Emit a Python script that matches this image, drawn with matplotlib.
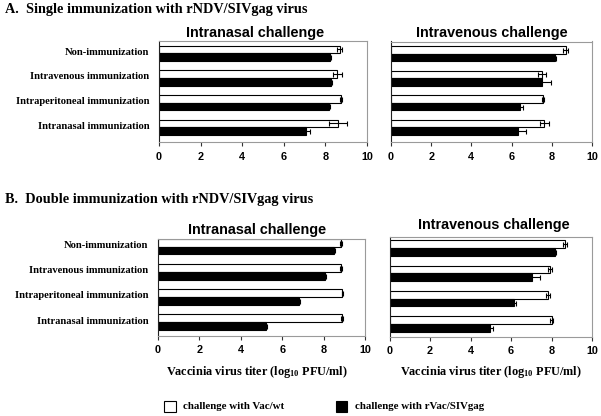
import matplotlib
matplotlib.use("Agg")
import matplotlib.pyplot as plt
import numpy as np
from matplotlib.patches import Rectangle

plt.rcParams['mathtext.fontset'] = 'custom'
plt.rcParams['mathtext.rm'] = 'Liberation Serif:bold'
plt.rcParams['mathtext.default'] = 'rm'

categories = ["Non-immunization", "Intravenous immunization",
              "Intraperitoneal immunization", "Intranasal immunization"]
xticks = [0, 2, 4, 6, 8, 10]

# Single immunization - intranasal challenge
a_in_wt = [8.68, 8.57, 8.75, 8.60]
a_in_wt_err = [0.12, 0.22, 0.05, 0.44]
a_in_siv = [8.20, 8.25, 8.19, 7.08]
a_in_siv_err = [0.05, 0.08, 0.05, 0.18]
# Single immunization - intravenous challenge
a_iv_wt = [8.70, 7.52, 7.57, 7.62]
a_iv_wt_err = [0.13, 0.20, 0.05, 0.23]
a_iv_siv = [8.18, 7.52, 6.41, 6.33]
a_iv_siv_err = [0.05, 0.45, 0.15, 0.40]
# Double immunization - intranasal challenge
b_in_wt = [8.82, 8.83, 8.90, 8.90]
b_in_wt_err = [0.05, 0.05, 0.03, 0.05]
b_in_siv = [8.48, 8.05, 6.83, 5.22]
b_in_siv_err = [0.07, 0.05, 0.05, 0.05]
# Double immunization - intravenous challenge
b_iv_wt = [8.69, 7.93, 7.83, 8.01]
b_iv_wt_err = [0.10, 0.10, 0.08, 0.07]
b_iv_siv = [8.19, 7.02, 6.16, 4.97]
b_iv_siv_err = [0.05, 0.40, 0.08, 0.15]

W, H = 601, 416
fig = plt.figure(figsize=(W / 100, H / 100), dpi=100)

def px_axes(x0, y0, x1, y1):
    return fig.add_axes([x0 / W, 1 - y1 / H, (x1 - x0) / W, (y1 - y0) / H])

SERIF = 'Liberation Serif'
SANS = 'Liberation Sans'

def draw(ax, wt, wt_err, siv, siv_err, ylim, show_labels):
    y = np.arange(len(categories))
    h = 0.31
    ax.barh(y - h / 2, wt, height=h, color='white', edgecolor='black', linewidth=0.8)
    ax.barh(y + h / 2, siv, height=h, color='black', edgecolor='black', linewidth=0.8)
    ax.errorbar(wt, y - h / 2, xerr=wt_err, fmt='none', ecolor='black',
                elinewidth=0.8, capsize=1.8, capthick=0.8)
    ax.errorbar(siv, y + h / 2, xerr=siv_err, fmt='none', ecolor='black',
                elinewidth=0.8, capsize=1.8, capthick=0.8)
    ax.set_xlim(0, 10)
    ax.set_ylim(*ylim)
    ax.set_xticks(xticks)
    ax.set_xticklabels([str(t) for t in xticks], fontfamily=SANS,
                       fontweight='bold', fontsize=7.8)
    ax.tick_params(axis='x', length=3, width=0.8, pad=4, color='#333333')
    ax.set_yticks(y - 0.08)
    if show_labels:
        ax.set_yticklabels(categories, fontfamily=SERIF, fontweight='bold', fontsize=7.6)
        ax.tick_params(axis='y', length=0, pad=7)
    else:
        ax.set_yticklabels([])
        ax.tick_params(axis='y', length=0)
    for s in ['top', 'right', 'bottom']:
        ax.spines[s].set_color('#9a9a9a')
        ax.spines[s].set_linewidth(0.8)
    ax.spines['left'].set_color('#222222')
    ax.spines['left'].set_linewidth(0.8)

ax1 = px_axes(159, 41, 367, 142)
draw(ax1, a_in_wt, a_in_wt_err, a_in_siv, a_in_siv_err, (3.6, -0.5), True)
ax2 = px_axes(391, 41.5, 592, 142)
draw(ax2, a_iv_wt, a_iv_wt_err, a_iv_siv, a_iv_siv_err, (3.6, -0.5), False)
ax3 = px_axes(158, 239, 365, 335.5)
draw(ax3, b_in_wt, b_in_wt_err, b_in_siv, b_in_siv_err, (3.53, -0.3), True)
ax4 = px_axes(389.5, 236.5, 592, 336.5)
draw(ax4, b_iv_wt, b_iv_wt_err, b_iv_siv, b_iv_siv_err, (3.5, -0.46), False)

def ftext(x, y, s, **kw):
    fig.text(x / W, 1 - y / H, s, **kw)

ftext(5, 9, "A.  Single immunization with rNDV/SIVgag virus", fontfamily=SERIF,
      fontweight='bold', fontsize=10.3, ha='left', va='center')
ftext(5, 199, "B.  Double immunization with rNDV/SIVgag virus", fontfamily=SERIF,
      fontweight='bold', fontsize=10.3, ha='left', va='center')

for (x, y, s) in [(255, 33, "Intranasal challenge"), (492, 33, "Intravenous challenge"),
                  (257, 230, "Intranasal challenge"), (494, 225, "Intravenous challenge")]:
    ftext(x, y, s, fontfamily=SANS, fontweight='bold', fontsize=10.4,
          ha='center', va='center')

xl = "Vaccinia virus titer (log$_{10}$ PFU/ml)"
ftext(257, 372, xl, fontfamily=SERIF, fontweight='bold', fontsize=8.8, ha='center', va='center')
ftext(491, 372, xl, fontfamily=SERIF, fontweight='bold', fontsize=8.8, ha='center', va='center')

# Legend
fig.patches.append(Rectangle((164 / W, 1 - 412 / H), 11.5 / W, 11.5 / H, transform=fig.transFigure,
                             facecolor='white', edgecolor='black', linewidth=0.8))
fig.patches.append(Rectangle((336 / W, 1 - 412 / H), 11.5 / W, 11.5 / H, transform=fig.transFigure,
                             facecolor='black', edgecolor='black', linewidth=0.8))
ftext(183, 406.5, "challenge with Vac/wt", fontfamily=SERIF, fontweight='bold',
      fontsize=7.8, ha='left', va='center')
ftext(355, 406.5, "challenge with rVac/SIVgag", fontfamily=SERIF, fontweight='bold',
      fontsize=7.8, ha='left', va='center')

fig.savefig("out.png", dpi=100)
